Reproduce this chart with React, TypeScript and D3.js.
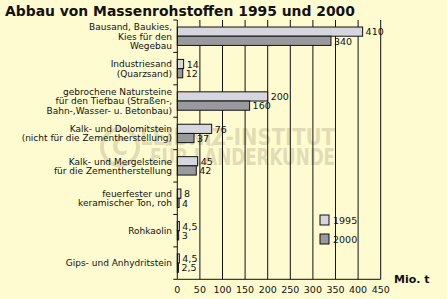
import React from "react";
import * as d3 from "d3";

const categories: string[][] = [
  ["Bausand, Baukies,", "Kies für den", "Wegebau"],
  ["Industriesand", "(Quarzsand)"],
  ["gebrochene Natursteine", "für den Tiefbau (Straßen-,", "Bahn-,Wasser- u. Betonbau)"],
  ["Kalk- und Dolomitstein", "(nicht für die Zementherstellung)"],
  ["Kalk- und Mergelsteine", "für die Zementherstellung"],
  ["feuerfester und", "keramischer Ton, roh"],
  ["Rohkaolin"],
  ["Gips- und Anhydritstein"],
];
const values1995: number[] = [410, 14, 200, 76, 45, 8, 4.5, 4.5];
const values2000: number[] = [340, 12, 160, 37, 42, 4, 3, 2.5];
const seriesNames: string[] = ["1995", "2000"];
const xTicks: number[] = [0, 50, 100, 150, 200, 250, 300, 350, 400, 450];
const title = "Abbau von Massenrohstoffen 1995 und 2000";
const unit = "Mio. t";

const W = 447;
const H = 299;
const BG = "#fffbd0";
const C1995 = "#d6d6de";
const C2000 = "#9a9a9e";
const FONT = "'DejaVu Sans', Verdana, sans-serif";

export default function App() {
  const x = d3.scaleLinear().domain([0, 450]).range([177.3, 380.7]);
  const idx = categories.map((_, i) => i);
  const y = d3.scaleBand<number>().domain(idx).range([20, 279.3]).paddingInner(0).paddingOuter(0);
  const bw = y.bandwidth();
  const barH = 9.2;
  const fmt = (v: number) => String(v).replace(".", ",");
  const series = [values1995, values2000];
  const colors = [C1995, C2000];
  const wm = "#a59d78";

  return (
    <svg width={W} height={H} style={{ position: "absolute", left: 0, top: 0, display: "block" }}>
      <rect x={0} y={0} width={W} height={H} fill={BG} />
      <text x={5} y={15.5} fontFamily={FONT} fontWeight="bold" fontSize={13.9} fill="#111">
        {title}
      </text>

      {/* watermark */}
      <g opacity={0.32} fill={wm}>
        <circle cx={120} cy={147} r={18} fill="none" stroke={wm} strokeWidth={4} />
        <text x={120} y={155} textAnchor="middle" fontFamily="'Liberation Sans Narrow', 'DejaVu Sans Condensed', sans-serif" fontWeight="bold" fontSize={24}>C</text>
        <text x={140} y={145} fontFamily="'Liberation Sans Narrow', 'DejaVu Sans Condensed', sans-serif" fontWeight="bold" fontSize={23} textLength={195} lengthAdjust="spacingAndGlyphs">LEIBNIZ-INSTITUT</text>
        <text x={150} y={165} fontFamily="'Liberation Sans Narrow', 'DejaVu Sans Condensed', sans-serif" fontWeight="bold" fontSize={23} textLength={185} lengthAdjust="spacingAndGlyphs">FÜR LÄNDERKUNDE</text>
      </g>

      {/* grid */}
      {xTicks.slice(1).map((t) => (
        <line key={t} x1={x(t)} x2={x(t)} y1={20} y2={279.3} stroke="#111" strokeWidth={1} />
      ))}

      {/* bars */}
      {idx.map((i) => {
        const c = (y(i) as number) + bw / 2;
        return (
          <g key={i}>
            {series.map((s, k) => {
              const top = c - barH + k * barH;
              return (
                <g key={k}>
                  <rect x={x(0)} y={top} width={x(s[i]) - x(0)} height={barH} fill={colors[k]} stroke="#111" strokeWidth={1} />
                  <text x={x(s[i]) + 3} y={top + barH / 2 + 3.8} fontFamily={FONT} fontSize={9.5} fill="#111">
                    {fmt(s[i])}
                  </text>
                </g>
              );
            })}
            {categories[i].map((line, j) => (
              <text
                key={j}
                x={172}
                y={c + (j - (categories[i].length - 1) / 2) * 9.2 + 3.3}
                textAnchor="end"
                fontFamily={FONT}
                fontSize={9}
                fill="#111"
              >
                {line}
              </text>
            ))}
          </g>
        );
      })}

      {/* y axis */}
      <line x1={x(0)} x2={x(0)} y1={20} y2={279.3} stroke="#111" strokeWidth={1} />
      {d3.range(categories.length + 1).map((i) => {
        const yy = 20 + i * bw;
        return <line key={i} x1={x(0) - 4} x2={x(0)} y1={yy} y2={yy} stroke="#111" strokeWidth={1} />;
      })}
      {/* x axis */}
      <line x1={x(0)} x2={x(450)} y1={279.3} y2={279.3} stroke="#111" strokeWidth={1} />
      {xTicks.map((t) => (
        <text key={t} x={x(t)} y={292.5} textAnchor="middle" fontFamily={FONT} fontSize={9.5} fill="#111">
          {t}
        </text>
      ))}
      <text x={394} y={283} fontFamily={FONT} fontWeight="bold" fontSize={11} fill="#111">
        {unit}
      </text>

      {/* legend */}
      {seriesNames.map((n, k) => (
        <g key={n}>
          <rect x={320} y={215 + k * 19} width={9} height={10} fill={colors[k]} stroke="#111" strokeWidth={1} />
          <text x={333} y={223.5 + k * 19} fontFamily={FONT} fontSize={9.5} fill="#111">
            {n}
          </text>
        </g>
      ))}
    </svg>
  );
}
